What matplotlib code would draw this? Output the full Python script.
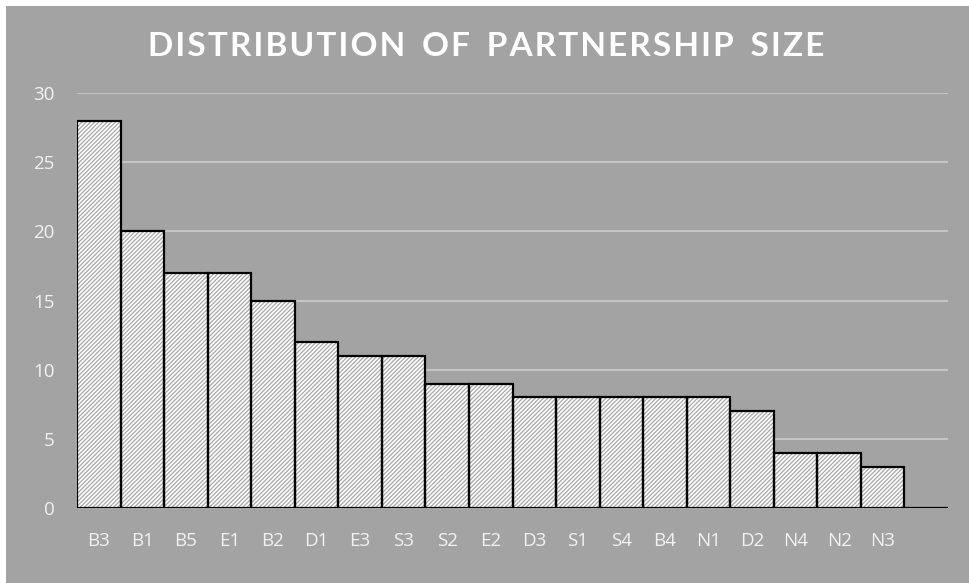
import matplotlib
matplotlib.use("Agg")
import matplotlib.pyplot as plt
from matplotlib.patches import Rectangle

categories = ["B3", "B1", "B5", "E1", "B2", "D1", "E3", "S3", "S2", "E2",
              "D3", "S1", "S4", "B4", "N1", "D2", "N4", "N2", "N3", ""]
values = [28, 20, 17, 17, 15, 12, 11, 11, 9, 9,
          8, 8, 8, 8, 8, 7, 4, 4, 3, 0]
yticks = [0, 5, 10, 15, 20, 25, 30]
title = "DISTRIBUTION OF PARTNERSHIP SIZE"

bg = "#a3a3a3"
txt = "#f2f2f2"
plt.rcParams['hatch.linewidth'] = 0.9

fig = plt.figure(figsize=(9.7, 5.83), dpi=100, facecolor="white")
fig.patches.append(Rectangle((6/970, 0), 1, 1 - 6/583, transform=fig.transFigure,
                             facecolor=bg, edgecolor="none", zorder=-10))
ax = fig.add_axes([77/970, 1 - 508/583, (948 - 77)/970, (508 - 93)/583])
ax.set_facecolor("none")
ax.set_zorder(5)

x = list(range(len(categories)))
# hatched fill
ax.bar(x, values, width=1.0, color="white", edgecolor="#a8a8a8", linewidth=0,
       hatch="////////", zorder=3)
# black outlines
ax.bar(x, values, width=1.0, color="none", edgecolor="black", linewidth=1.6,
       zorder=4)
ax.set_xlim(-0.5, len(categories) - 0.5)
ax.set_ylim(0, 30)
ax.set_yticks(yticks)
ax.set_xticks(x)
ax.set_xticklabels(categories)
ax.grid(axis="y", color="#c4c4c4", linewidth=1.5, zorder=0)
ax.set_axisbelow(True)
for s in ax.spines.values():
    s.set_visible(False)
ax.tick_params(length=0, colors=txt, labelsize=13.5, pad=17)
ax.tick_params(axis="y", pad=16)
for lab in ax.get_xticklabels() + ax.get_yticklabels():
    lab.set_fontfamily("Open Sans")
    lab.set_color(txt)

spaced = "\u2002".join("\u200a".join(w) for w in title.split(" "))
fig.text(486/970, 1 - 47/583, spaced,
         ha="center", va="center", color="white", fontsize=24, fontweight="bold",
         fontfamily="Lato")

fig.savefig("out.png", dpi=100, facecolor="white")
